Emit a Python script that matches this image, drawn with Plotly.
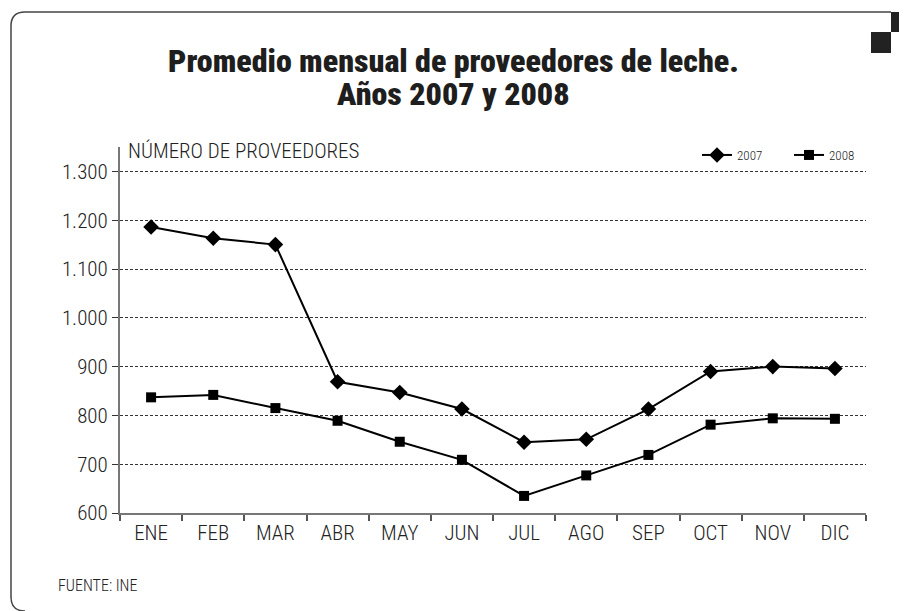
import plotly.graph_objects as go

# datos
meses = ["ENE", "FEB", "MAR", "ABR", "MAY", "JUN", "JUL", "AGO", "SEP", "OCT", "NOV", "DIC"]
prov_2007 = [1186, 1163, 1150, 869, 847, 813, 745, 751, 813, 890, 900, 896]
prov_2008 = [837, 842, 815, 789, 746, 709, 635, 677, 719, 781, 794, 793]
y_ticks = [600, 700, 800, 900, 1000, 1100, 1200, 1300]

FONT = "Roboto Condensed, Liberation Sans Narrow, sans-serif"
OFF = 8  # page body margin
W, H = 907 - OFF, 611 - OFF
L, R, T, B = 112, 41, 139, 98


# page pixel -> paper coords (for the decorative frame / labels)
def px(x):
    return (x - OFF - L) / (W - L - R)


def py(y):
    return (H - B - (y - OFF)) / (H - T - B)


fig = go.Figure()
fig.add_trace(go.Scatter(x=meses, y=prov_2007, name="2007", mode="lines+markers",
                         line=dict(color="black", width=2),
                         marker=dict(symbol="diamond", size=12, color="black")))
fig.add_trace(go.Scatter(x=meses, y=prov_2008, name="2008", mode="lines+markers",
                         line=dict(color="black", width=2),
                         marker=dict(symbol="square", size=10, color="black")))

shapes = []
# frame: top + left edge with rounded corners
frame = (f"M {px(891)},{py(12)} L {px(25)},{py(12)} "
         f"Q {px(11)},{py(12)} {px(11)},{py(26)} "
         f"L {px(11)},{py(597)} Q {px(11)},{py(611)} {px(25)},{py(611)}")
shapes.append(dict(type="path", xref="paper", yref="paper", path=frame,
                   line=dict(color="#444", width=1.5)))
shapes.append(dict(type="rect", xref="paper", yref="paper", x0=px(891), x1=px(907),
                   y0=py(12), y1=py(32), fillcolor="#222", line=dict(width=0)))
shapes.append(dict(type="rect", xref="paper", yref="paper", x0=px(871), x1=px(891),
                   y0=py(32), y1=py(53), fillcolor="#222", line=dict(width=0)))

title_font = dict(size=32, family=FONT, color="#1e1e1e", weight=900)
fig.update_layout(
    width=W, height=H,
    margin=dict(l=L, r=R, t=T, b=B),
    paper_bgcolor="white", plot_bgcolor="white",
    font=dict(family=FONT, color="#222"),
    separators=",.",
    shapes=shapes,
    legend=dict(orientation="h", x=px(697), xanchor="left", y=py(155), yanchor="middle",
                font=dict(size=13, family=FONT, weight=300), bgcolor="rgba(0,0,0,0)",
                itemwidth=30, entrywidth=47, tracegroupgap=0),
    showlegend=True,
    annotations=[
        dict(text="Promedio mensual de proveedores de leche.", xref="paper", yref="paper",
             x=px(453), y=py(77), xanchor="center", yanchor="bottom", showarrow=False,
             font=title_font, yshift=-5),
        dict(text="Años 2007 y 2008", xref="paper", yref="paper",
             x=px(453), y=py(110), xanchor="center", yanchor="bottom", showarrow=False,
             font=title_font, yshift=-5),
        dict(text="NÚMERO DE PROVEEDORES", xref="paper", yref="paper", x=px(126), y=py(151),
             xanchor="left", yanchor="middle", showarrow=False,
             font=dict(size=21, family=FONT, weight=300)),
        dict(text="FUENTE: INE", xref="paper", yref="paper", x=px(56), y=py(585),
             xanchor="left", yanchor="middle", showarrow=False, font=dict(size=16, family=FONT, weight=300)),
    ],
)

fig.update_xaxes(type="category", tickson="boundaries", range=[-0.5, 11.5],
                 showline=True, linecolor="#777", linewidth=2, showgrid=False,
                 ticks="outside", ticklen=6, tickcolor="#555", tickwidth=1.5,
                 tickfont=dict(size=21, family=FONT, color="#222", weight=300))
fig.update_yaxes(range=[600, 1350], tickvals=y_ticks, separatethousands=True,
                 showline=True, linecolor="#777", linewidth=2,
                 showgrid=True, gridcolor="#333", gridwidth=1, griddash="3px,2px",
                 ticks="outside", ticklen=6, tickcolor="#333", tickwidth=1,
                 tickfont=dict(size=21, family=FONT, color="#222", weight=300), zeroline=False)

fig.write_html("out.html")
